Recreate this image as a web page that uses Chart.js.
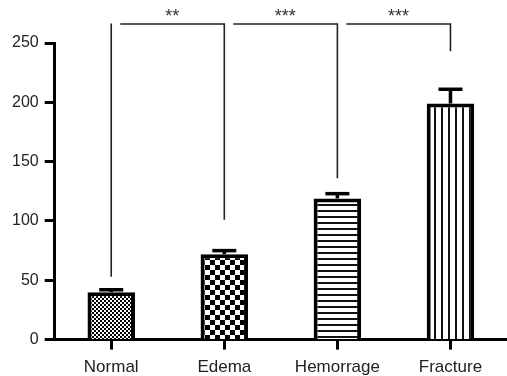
<!DOCTYPE html>
<html>
<head>
<meta charset="utf-8">
<script src="https://cdn.jsdelivr.net/npm/chart.js@4/dist/chart.umd.min.js"></script>
<style>
  html, body { margin: 0; padding: 0; background: #fff; }
  canvas { display: block; }
</style>
</head>
<body>
<canvas id="c" width="507" height="376"></canvas>
<script>
// ---- data ----
const categories = ['Normal', 'Edema', 'Hemorrage', 'Fracture'];
const means = [40, 72, 119, 199];
const errors = [2, 3, 4, 12];
const yTicks = [0, 50, 100, 150, 200, 250];

// significance brackets
const bracketFrom = [0, 1, 2];
const bracketTo = [1, 2, 3];
const bracketLabels = ['**', '***', '***'];
const bracketLevel = 266;
const bracketDrop = [101, 136, 243];
const firstLeftDrop = 53;

// ---- patterns ----
function makePattern(w, h, draw) {
  const c = document.createElement('canvas');
  c.width = w; c.height = h;
  const g = c.getContext('2d');
  g.fillStyle = '#fff';
  g.fillRect(0, 0, w, h);
  g.fillStyle = '#000';
  draw(g);
  return document.getElementById('c').getContext('2d').createPattern(c, 'repeat');
}
const patFine = makePattern(4, 4, g => { g.fillRect(0, 0, 2, 2); g.fillRect(2, 2, 2, 2); });
const patChecker = makePattern(10, 10, g => { g.fillRect(0, 0, 5, 5); g.fillRect(5, 5, 5, 5); });
const patHoriz = makePattern(6, 6, g => { g.fillStyle = '#111'; g.fillRect(0, 0, 6, 2); });
const patVert = makePattern(7, 7, g => { g.fillStyle = '#111'; g.fillRect(0, 0, 2, 7); });

const FONT = "'Liberation Sans', Arial, sans-serif";

const overlay = {
  id: 'overlay',
  afterDatasetsDraw(chart) {
    const ctx = chart.ctx;
    const xs = chart.scales.x, ys = chart.scales.y;
    ctx.save();
    ctx.strokeStyle = '#000';
    ctx.lineCap = 'butt';
    means.forEach((m, i) => {
      const x = xs.getPixelForValue(i);
      const yb = ys.getPixelForValue(m);
      const yt = ys.getPixelForValue(m + errors[i]);
      ctx.lineWidth = 3.5;
      ctx.beginPath(); ctx.moveTo(x, yb); ctx.lineTo(x, yt); ctx.stroke();
      ctx.beginPath(); ctx.moveTo(x - 12, yt); ctx.lineTo(x + 12, yt); ctx.stroke();
    });
    ctx.restore();
  },
  afterDraw(chart) {
    const ctx = chart.ctx;
    const xs = chart.scales.x, ys = chart.scales.y;
    ctx.save();
    ctx.strokeStyle = '#222';
    ctx.lineWidth = 1.6;
    const yl = ys.getPixelForValue(bracketLevel);
    const x0 = xs.getPixelForValue(bracketFrom[0]);
    ctx.beginPath(); ctx.moveTo(x0, yl - 0.5); ctx.lineTo(x0, ys.getPixelForValue(firstLeftDrop)); ctx.stroke();
    bracketFrom.forEach((f, i) => {
      const xa = xs.getPixelForValue(f) + 9;
      const xb = xs.getPixelForValue(bracketTo[i]);
      ctx.beginPath();
      ctx.moveTo(xa, yl);
      ctx.lineTo(xb, yl);
      ctx.lineTo(xb, ys.getPixelForValue(bracketDrop[i]));
      ctx.stroke();
      ctx.fillStyle = '#333';
      ctx.font = '18px ' + FONT;
      ctx.textAlign = 'center';
      ctx.textBaseline = 'alphabetic';
      ctx.fillText(bracketLabels[i], (xa + xb) / 2, yl - 2.5);
    });
    ctx.restore();
  }
};

new Chart(document.getElementById('c'), {
  type: 'bar',
  data: {
    labels: categories,
    datasets: [{
      data: means,
      backgroundColor: [patFine, patChecker, patHoriz, patVert],
      borderColor: '#000',
      borderWidth: 4,
      borderSkipped: 'bottom',
      categoryPercentage: 1,
      barPercentage: 0.42
    }]
  },
  options: {
    responsive: false,
    devicePixelRatio: 1,
    animation: false,
    layout: { padding: { top: 43, left: 6, right: -5, bottom: -10 } },
    plugins: { legend: { display: false }, tooltip: { enabled: false } },
    scales: {
      x: {
        z: 1,
        offset: true,
        border: { display: true, width: 3, color: '#000' },
        grid: { offset: false, drawOnChartArea: false, drawTicks: true, tickLength: 10, tickWidth: 3, tickColor: '#000' },
        ticks: { color: '#222', padding: 8, font: { family: FONT, size: 17 } }
      },
      y: {
        min: 0, max: 250,
        afterBuildTicks(scale) { scale.ticks = yTicks.map(v => ({ value: v })); },
        border: { display: true, width: 3, color: '#000' },
        grid: { drawOnChartArea: false, drawTicks: true, tickLength: 10, tickWidth: 3, tickColor: '#000' },
        ticks: { color: '#222', padding: 6, font: { family: FONT, size: 16 } }
      }
    }
  },
  plugins: [overlay]
});
</script>
</body>
</html>
